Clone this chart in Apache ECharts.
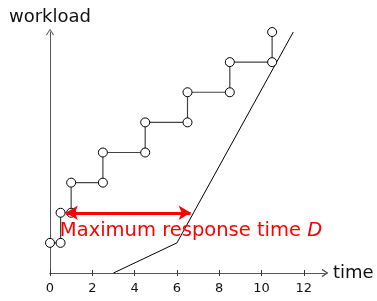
<!DOCTYPE html>
<html>
<head>
<meta charset="utf-8">
<script src="https://cdn.jsdelivr.net/npm/echarts@6/dist/echarts.min.js"></script>
<style>
  html, body { margin: 0; padding: 0; background: #fff; }
  #chart { width: 377px; height: 301px; }
</style>
</head>
<body>
<div id="chart"></div>
<script>
// workload steps (arrival curve)
const stepX = [0, 0.5, 0.5, 1, 1, 2.5, 2.5, 4.5, 4.5, 6.5, 6.5, 8.5, 8.5, 10.5, 10.5];
const stepY = [1, 1, 2, 2, 3, 3, 4, 4, 5, 5, 6, 6, 7, 7, 8];
// service curve
const serviceX = [3, 6, 11.5];
const serviceY = [0, 1, 8];
// response time arrow
const arrowFrom = [0.75, 2];
const arrowTo = [6.65, 2];
const xTicks = [0, 2, 4, 6, 8, 10, 12];

const FONT = 'DejaVu Sans';
const chevron = 'path://M0,6 L4,0 L8,6 L7.1,6.5 L4,1.6 L0.9,6.5 Z';

const chart = echarts.init(document.getElementById('chart'));

const zip = (xs, ys) => xs.map((x, i) => [x, ys[i]]);

const baseX = {
    type: 'value',
    position: 'bottom',
    min: 0,
    max: 13,
    splitLine: { show: false },
    axisLine: {
        show: true,
        lineStyle: { color: '#555', width: 1 },
        symbol: ['none', chevron],
        symbolSize: [8, 6.5],
        symbolOffset: [0, 0]
    }
};

chart.setOption({
    animation: false,
    textStyle: { fontFamily: FONT },
    grid: { left: 50, right: 52, top: 32, bottom: 28 },
    xAxis: [
        Object.assign({}, baseX, {
            name: 'time',
            nameLocation: 'end',
            nameGap: 8,
            nameTextStyle: { fontSize: 18, color: '#111', fontFamily: FONT },
            axisTick: { show: true, inside: false, length: 3, customValues: xTicks, lineStyle: { color: '#333' } },
            axisLabel: { show: true, customValues: xTicks, fontSize: 13, color: '#111', margin: 9, fontFamily: FONT }
        }),
        Object.assign({}, baseX, {
            axisTick: { show: true, inside: true, length: 3, customValues: xTicks, lineStyle: { color: '#333' } },
            axisLabel: { show: false }
        })
    ],
    yAxis: {
        type: 'value',
        min: 0,
        max: 8,
        name: 'workload',
        nameLocation: 'end',
        nameGap: 6,
        nameTextStyle: { fontSize: 18, color: '#111', fontFamily: FONT },
        splitLine: { show: false },
        axisTick: { show: false },
        axisLabel: { show: false },
        axisLine: {
            show: true,
            lineStyle: { color: '#555', width: 1 },
            symbol: ['none', chevron],
            symbolSize: [8, 6.5]
        }
    },
    series: [
        {
            type: 'line',
            data: zip(serviceX, serviceY),
            symbol: 'none',
            clip: false,
            lineStyle: { color: '#000', width: 1 },
            z: 2
        },
        {
            type: 'line',
            data: zip(stepX, stepY),
            symbol: 'circle',
            symbolSize: 9,
            clip: false,
            lineStyle: { color: '#444', width: 1.2 },
            itemStyle: { color: '#fff', borderColor: '#000', borderWidth: 1 },
            z: 3
        },
        {
            type: 'line',
            data: [],
            z: 5,
            markLine: {
                silent: true,
                symbol: ['arrow', 'arrow'],
                symbolSize: [11, 12],
                lineStyle: { color: '#ff0000', width: 3, type: 'solid' },
                label: {
                    show: true,
                    position: 'insideStartBottom',
                    distance: [-6, 8],
                    formatter: '{a|Maximum response time }{b|D}',
                    rich: {
                        a: { fontSize: 19.5, color: '#ff0000', fontFamily: FONT },
                        b: { fontSize: 19.5, color: '#ff0000', fontFamily: FONT, fontStyle: 'italic' }
                    }
                },
                data: [[{ coord: arrowFrom }, { coord: arrowTo }]]
            }
        }
    ]
});
</script>
</body>
</html>
